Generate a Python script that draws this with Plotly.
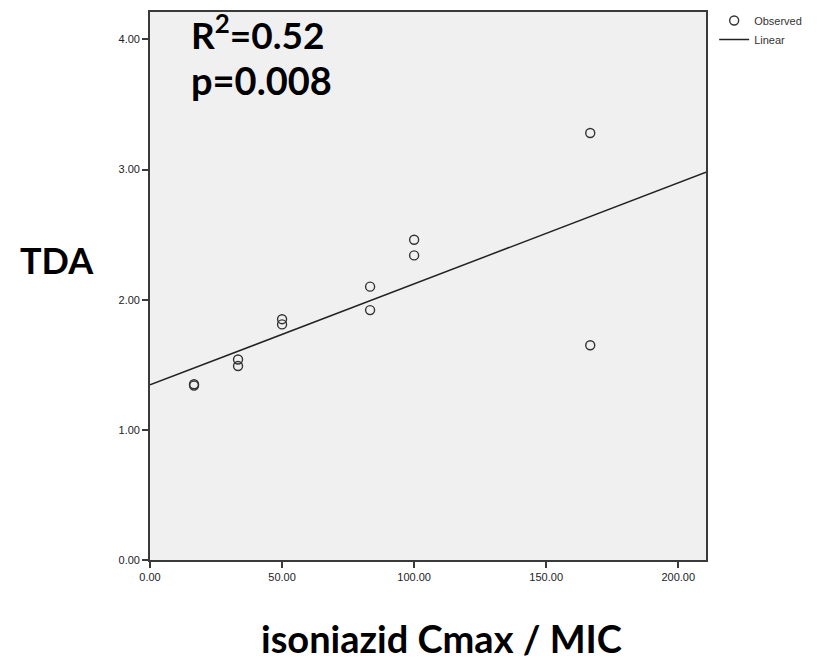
import numpy as np
import plotly.graph_objects as go

# Data
cmax_mic = [16.67, 16.67, 33.33, 33.33, 50.0, 50.0, 83.33, 83.33, 100.0, 100.0, 166.67, 166.67]
tda = [1.35, 1.34, 1.54, 1.49, 1.85, 1.81, 2.10, 1.92, 2.46, 2.34, 3.28, 1.65]
x_ticks = [0, 50, 100, 150, 200]
y_ticks = [0, 1, 2, 3, 4]
x_range = [0, 210.5]
y_range = [0, 4.21]

slope, intercept = np.polyfit(cmax_mic, tda, 1)
fit_x = np.array(x_range, dtype=float)
fit_y = intercept + slope * fit_x

fig = go.Figure()
fig.add_trace(go.Scatter(
    x=cmax_mic, y=tda, mode="markers", name="Observed",
    marker=dict(symbol="circle-open", size=9, color="#333333", line=dict(width=1.4)),
))
fig.add_trace(go.Scatter(
    x=fit_x, y=fit_y, mode="lines", name="Linear",
    line=dict(color="#222222", width=1.5),
))

axis_common = dict(
    showgrid=False, zeroline=False, showline=True, linecolor="#3a3a3a", linewidth=1.6,
    mirror=True, ticks="outside", ticklen=6, tickcolor="#3a3a3a", tickwidth=1.5,
    tickfont=dict(family="Liberation Sans, Arial", size=11, color="#222222"),
)

fig.update_layout(
    width=819, height=662,
    margin=dict(l=150, r=113, t=12, b=102, autoexpand=False),
    paper_bgcolor="white", plot_bgcolor="#F0F0F0",
    showlegend=True,
    legend=dict(xref="container", yref="container", x=0.872, y=0.991,
                xanchor="left", yanchor="top",
                font=dict(family="Liberation Sans, Arial", size=11, color="#333333"),
                bgcolor="rgba(0,0,0,0)", tracegroupgap=0, itemwidth=30),
    xaxis=dict(range=x_range, tickvals=x_ticks,
               ticktext=[f"{v:.2f}" for v in x_ticks], **axis_common),
    yaxis=dict(range=y_range, tickvals=y_ticks,
               ticktext=[f"{v:.2f}" for v in y_ticks], **axis_common),
    annotations=[
        dict(text="<b>R<sup>2</sup>=0.52</b>", xref="paper", yref="paper",
             x=0.07, y=1.012, xanchor="left", yanchor="top", showarrow=False,
             font=dict(family="Lato", size=37, color="black")),
        dict(text="<b>p=0.008</b>", xref="paper", yref="paper",
             x=0.07, y=0.922, xanchor="left", yanchor="top", showarrow=False,
             font=dict(family="Lato", size=38, color="black")),
        dict(text="<b>TDA</b>", xref="paper", yref="paper",
             x=-0.168, y=0.547, xanchor="center", yanchor="middle", showarrow=False,
             font=dict(family="Lato", size=36, color="black")),
        dict(text="<b>isoniazid Cmax / MIC</b>", xref="paper", yref="paper",
             x=0.525, y=-0.186, xanchor="center", yanchor="bottom", showarrow=False,
             borderpad=0,
             font=dict(family="Lato", size=38, color="black")),
    ],
)

fig.write_html("out.html")
